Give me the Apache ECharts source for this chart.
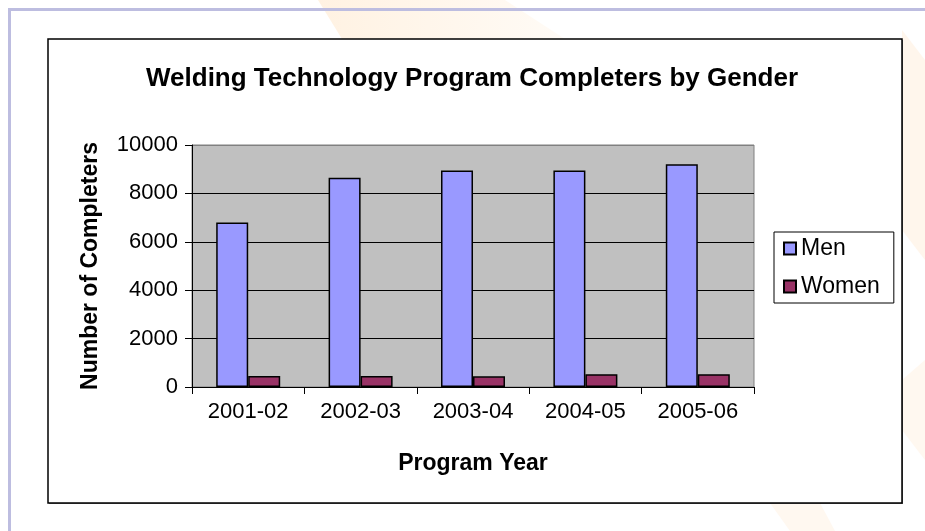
<!DOCTYPE html>
<html>
<head>
<meta charset="utf-8">
<script src="https://cdn.jsdelivr.net/npm/echarts@6/dist/echarts.min.js"></script>
<style>
html,body{margin:0;padding:0;background:#fff;}
#c{width:925px;height:531px;}
</style>
</head>
<body>
<div id="c"></div>
<script>
const categories = ['2001-02','2002-03','2003-04','2004-05','2005-06'];
const menValues = [6800, 8650, 8950, 8950, 9200];
const womenValues = [450, 450, 440, 530, 530];
const yTicks = [0, 2000, 4000, 6000, 8000, 10000];

const FONT = "'Liberation Sans', Arial, sans-serif";
const chart = echarts.init(document.getElementById('c'), null, {renderer:'canvas'});
chart.setOption({
  backgroundColor: '#ffffff',
  animation: false,
  graphic: [
    {type:'polygon', z:-20, shape:{points:[[318,0],[505,0],[565,39],[342,39]]},
     style:{fill:new echarts.graphic.LinearGradient(0,0,1,0,[{offset:0,color:'#FFF2E2'},{offset:1,color:'#FFFBF6'}])}},
    {type:'polygon', z:-20, shape:{points:[[902,30],[925,60],[925,260],[902,230]]},
     style:{fill:'#FFF6EC'}},
    {type:'polygon', z:-20, shape:{points:[[902,380],[925,360],[925,460],[902,430]]},
     style:{fill:'#FFF8F0'}},
    {type:'polygon', z:-20, shape:{points:[[770,503],[820,503],[835,531],[790,531]]},
     style:{fill:'#FFF8F0'}},
    {type:'rect', z:-15, shape:{x:8,y:8,width:917,height:3}, style:{fill:'#BDBDE0'}},
    {type:'rect', z:-15, shape:{x:8,y:8,width:3,height:523}, style:{fill:'#BDBDE0'}},
    {type:'rect', z:-12, shape:{x:49,y:40,width:854,height:464}, style:{fill:'#777777'}},
    {type:'rect', z:-11, shape:{x:48,y:39,width:854,height:464}, style:{fill:'#ffffff', stroke:'#000000', lineWidth:1.5}}
  ],
  title: {
    text: 'Welding Technology Program Completers by Gender',
    left: 146, top: 66, padding: 0,
    textStyle: {fontFamily: FONT, fontSize: 26, fontWeight: 'bold', color: '#000'}
  },
  legend: {
    orient: 'vertical', left: 774, top: 232,
    data: ['Men','Women'],
    icon: 'rect', itemWidth: 12, itemHeight: 12, itemGap: 15,
    padding: [5, 14, 5, 9],
    borderColor: '#000', borderWidth: 1,
    textStyle: {fontFamily: FONT, fontSize: 23, color: '#000'}
  },
  grid: {
    left: 192, top: 145, width: 562, height: 242,
    show: true, backgroundColor: '#C0C0C0', borderColor: '#808080', borderWidth: 1
  },
  xAxis: {
    type: 'category', data: categories,
    name: 'Program Year', nameLocation: 'middle', nameGap: 65,
    nameTextStyle: {fontFamily: FONT, fontSize: 23, fontWeight: 'bold', color: '#000'},
    axisLine: {lineStyle: {color: '#000', width: 1}},
    axisTick: {show: true, length: 7, lineStyle: {color: '#000'}},
    axisLabel: {fontFamily: FONT, fontSize: 22, color: '#000', margin: 14}
  },
  yAxis: {
    type: 'value', min: yTicks[0], max: yTicks[yTicks.length-1], interval: 2000,
    name: 'Number of Completers', nameLocation: 'middle', nameGap: 90,
    nameTextStyle: {fontFamily: FONT, fontSize: 23, fontWeight: 'bold', color: '#000'},
    axisLine: {show: true, lineStyle: {color: '#000', width: 1}},
    axisTick: {show: true, length: 7, lineStyle: {color: '#000'}},
    axisLabel: {fontFamily: FONT, fontSize: 22, color: '#000', margin: 14, formatter: v => String(v)},
    splitLine: {show: true, lineStyle: {color: ['#000','#000','#000','#000','#000','#808080'], width: 1}}
  },
  series: [
    {name: 'Men', type: 'bar', data: menValues, barWidth: 32, barGap: '0%',
     itemStyle: {color: '#9999FF', borderColor: '#000', borderWidth: 1.5}},
    {name: 'Women', type: 'bar', data: womenValues, barWidth: 32,
     itemStyle: {color: '#993366', borderColor: '#000', borderWidth: 1.5}}
  ]
});
</script>
</body>
</html>
